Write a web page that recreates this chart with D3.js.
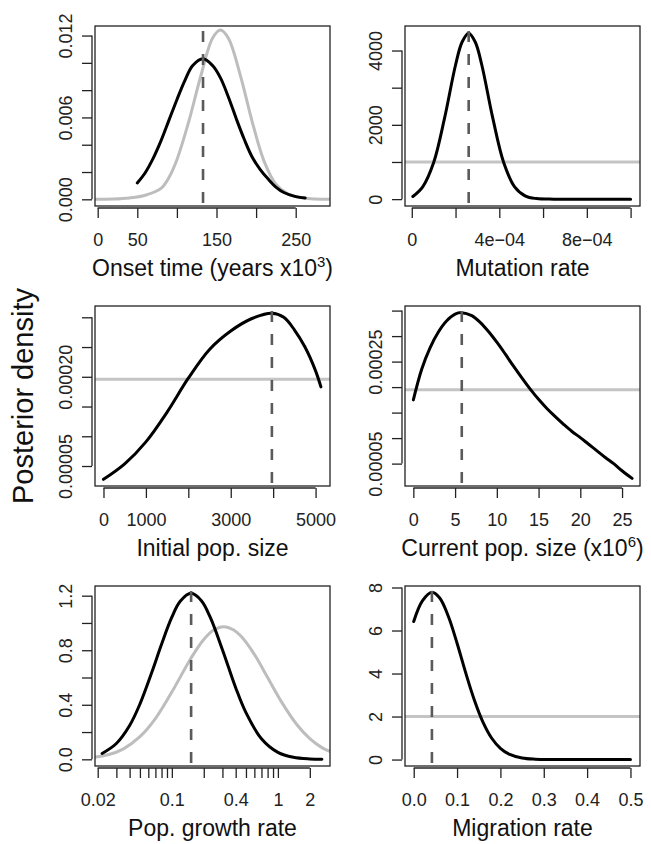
<!DOCTYPE html>
<html>
<head>
<meta charset="utf-8">
<script src="https://cdn.jsdelivr.net/npm/d3@7"></script>
<style>
  body { margin: 0; background: #fff; }
  svg { display: block; font-family: "Liberation Sans", Arial, Helvetica, sans-serif; }
</style>
</head>
<body>
<svg id="chart" width="651" height="844"></svg>
<script>
// Onset time (years x10^3)
const onsetPostX = [50, 60, 70, 80, 90, 100, 110, 120, 133, 145, 155, 165, 175, 185, 195, 205, 215, 225, 235, 250, 262];
const onsetPostY = [0.0012, 0.00195, 0.0030, 0.0043, 0.0058, 0.0073, 0.0087, 0.0098, 0.0103, 0.0098, 0.0089, 0.0075, 0.0059, 0.0044, 0.0031, 0.0022, 0.0015, 0.0009, 0.0005, 0.0002, 0.0001];
const onsetPriorX = [-10, 20, 40, 60, 80, 90, 100, 115, 130, 145, 155, 165, 180, 195, 210, 225, 240, 260, 300];
const onsetPriorY = [0, 0.00002, 0.0001, 0.0003, 0.0008, 0.0016, 0.0029, 0.0057, 0.0090, 0.0118, 0.0124, 0.0118, 0.0091, 0.0057, 0.0028, 0.0011, 0.0004, 0.0001, 0];
const onsetMode = 133;
const onsetXTicks = [0, 50, 100, 150, 200, 250];
const onsetXLabels = ['0', '50', '', '150', '', '250'];
const onsetYTicks = [0, 0.002, 0.004, 0.006, 0.008, 0.010, 0.012];
const onsetYLabels = ['0.000', '', '', '0.006', '', '', '0.012'];

// Mutation rate
const mutPostX = [0.000005, 0.00005, 0.0001, 0.00015, 0.0002, 0.00023, 0.00026, 0.00029, 0.00032, 0.00037, 0.00042, 0.00047, 0.00052, 0.00057, 0.00065, 0.0008, 0.001];
const mutPostY = [70, 330, 984, 2185, 3610, 4230, 4466, 4230, 3610, 2185, 984, 330, 80, 15, 0, 0, 0];
const mutPrior = 1000;
const mutMode = 0.00026;
const mutXTicks = [0, 0.0002, 0.0004, 0.0006, 0.0008, 0.001];
const mutXLabels = ['0', '', '4e\u221204', '', '8e\u221204', ''];
const mutYTicks = [0, 1000, 2000, 3000, 4000];
const mutYLabels = ['0', '', '2000', '', '4000'];

// Initial pop. size
const initPostX = [0, 500, 1000, 1500, 2000, 2500, 3000, 3500, 3970, 4250, 4500, 4750, 5000, 5126];
const initPostY = [0.0000276, 0.0000536, 0.0000906, 0.0001406, 0.0001976, 0.000246, 0.000277, 0.000298, 0.000307, 0.000300, 0.000279, 0.000250, 0.000210, 0.000183];
const initPrior = 0.000196;
const initMode = 3970;
const initXTicks = [0, 1000, 2000, 3000, 4000, 5000];
const initXLabels = ['0', '1000', '', '3000', '', '5000'];
const initYTicks = [0.00005, 0.0001, 0.00015, 0.0002, 0.00025, 0.0003];
const initYLabels = ['0.00005', '', '', '0.00020', '', ''];

// Current pop. size (x10^6)
const curPostX = [0, 1, 2, 3, 4, 5, 5.8, 7, 8, 9, 10, 11, 12, 13, 14, 15, 16, 17, 18, 19, 20, 21, 22, 23, 24, 25, 26.2];
const curPostY = [0.000175, 0.000235, 0.000277, 0.000308, 0.000330, 0.000343, 0.000346, 0.000340, 0.000327, 0.000309, 0.000288, 0.000265, 0.000241, 0.000218, 0.000196, 0.000176, 0.000158, 0.000142, 0.000127, 0.000113, 0.000101, 0.000088, 0.000075, 0.000062, 0.000050, 0.000036, 0.000021];
const curPrior = 0.000195;
const curMode = 5.8;
const curXTicks = [0, 5, 10, 15, 20, 25];
const curXLabels = ['0', '5', '10', '15', '20', '25'];
const curYTicks = [0.00005, 0.0001, 0.00015, 0.0002, 0.00025, 0.0003, 0.00035];
const curYLabels = ['0.00005', '', '', '', '0.00025', '', ''];

// Pop. growth rate (log axis)
const growPostX = [0.022, 0.03, 0.04, 0.05, 0.065, 0.08, 0.1, 0.12, 0.152, 0.19, 0.23, 0.3, 0.4, 0.5, 0.7, 1, 1.4, 2, 2.6];
const growPostY = [0.043, 0.116, 0.248, 0.405, 0.642, 0.844, 1.042, 1.159, 1.217, 1.163, 1.042, 0.804, 0.525, 0.342, 0.151, 0.051, 0.015, 0.003, 0.001];
const growPriorX = [0.017, 0.025, 0.035, 0.05, 0.07, 0.1, 0.15, 0.2, 0.25, 0.309, 0.38, 0.45, 0.6, 0.8, 1.1, 1.5, 2, 2.6, 3.3];
const growPriorY = [0.012, 0.033, 0.077, 0.166, 0.299, 0.493, 0.736, 0.879, 0.950, 0.973, 0.950, 0.902, 0.770, 0.600, 0.412, 0.257, 0.151, 0.086, 0.050];
const growMode = 0.152;
const growXTicks = [0.02, 0.03, 0.04, 0.05, 0.06, 0.07, 0.08, 0.09, 0.1, 0.2, 0.3, 0.4, 0.5, 0.6, 0.7, 0.8, 0.9, 1, 2];
const growXLabels = ['0.02', '', '', '', '', '', '', '', '0.1', '', '', '0.4', '', '', '', '', '', '1', '2'];
const growYTicks = [0, 0.2, 0.4, 0.6, 0.8, 1.0, 1.2];
const growYLabels = ['0.0', '', '0.4', '', '0.8', '', '1.2'];

// Migration rate
const migPostX = [0, 0.02, 0.042, 0.06, 0.08, 0.1, 0.12, 0.14, 0.16, 0.18, 0.2, 0.22, 0.25, 0.28, 0.32, 0.4, 0.5];
const migPostY = [6.42, 7.38, 7.78, 7.51, 6.65, 5.41, 4.03, 2.76, 1.73, 0.99, 0.52, 0.25, 0.072, 0.017, 0.002, 0, 0];
const migPrior = 2;
const migMode = 0.042;
const migXTicks = [0, 0.1, 0.2, 0.3, 0.4, 0.5];
const migXLabels = ['0.0', '0.1', '0.2', '0.3', '0.4', '0.5'];
const migYTicks = [0, 2, 4, 6, 8];
const migYLabels = ['0', '2', '4', '6', '8'];

// layout
const boxW = 235, boxH = 180;
const colX = [95, 405];
const rowY = [26, 306, 586];

const panels = [
    { col: 0, row: 0, xDomain: [-3.4, 293.3], yDomain: [-0.00049, 0.0127],
      xTicks: onsetXTicks, xLabels: onsetXLabels, yTicks: onsetYTicks, yLabels: onsetYLabels,
      post: d3.zip(onsetPostX, onsetPostY), prior: d3.zip(onsetPriorX, onsetPriorY), mode: onsetMode,
      title: ['Onset time (years x10', '3', ')'] },
    { col: 1, row: 0, xDomain: [-0.000031, 0.001043], yDomain: [-185, 4660],
      xTicks: mutXTicks, xLabels: mutXLabels, yTicks: mutYTicks, yLabels: mutYLabels,
      post: d3.zip(mutPostX, mutPostY), prior: mutPrior, mode: mutMode,
      title: ['Mutation rate'] },
    { col: 0, row: 1, xDomain: [-200, 5340], yDomain: [0.0000164, 0.000319],
      xTicks: initXTicks, xLabels: initXLabels, yTicks: initYTicks, yLabels: initYLabels,
      post: d3.zip(initPostX, initPostY), prior: initPrior, mode: initMode,
      title: ['Initial pop. size'] },
    { col: 1, row: 1, xDomain: [-1.0, 27.15], yDomain: [0.0000061, 0.000359],
      xTicks: curXTicks, xLabels: curXLabels, yTicks: curYTicks, yLabels: curYLabels,
      post: d3.zip(curPostX, curPostY), prior: curPrior, mode: curMode,
      title: ['Current pop. size (x10', '6', ')'] },
    { col: 0, row: 2, xDomain: [0.01886, 3.10], yDomain: [-0.049, 1.271], xLog: true,
      xTicks: growXTicks, xLabels: growXLabels, yTicks: growYTicks, yLabels: growYLabels,
      post: d3.zip(growPostX, growPostY), prior: d3.zip(growPriorX, growPriorY), mode: growMode,
      title: ['Pop. growth rate'] },
    { col: 1, row: 2, xDomain: [-0.0201, 0.522], yDomain: [-0.3, 8.07],
      xTicks: migXTicks, xLabels: migXLabels, yTicks: migYTicks, yLabels: migYLabels,
      post: d3.zip(migPostX, migPostY), prior: migPrior, mode: migMode,
      title: ['Migration rate'] }
];

const svg = d3.select('#chart');
svg.append('rect').attr('width', 651).attr('height', 844).attr('fill', '#fff');

panels.forEach((p, i) => {
    const g = svg.append('g').attr('transform', `translate(${colX[p.col]},${rowY[p.row]})`);
    const x = (p.xLog ? d3.scaleLog() : d3.scaleLinear()).domain(p.xDomain).range([0, boxW]);
    const y = d3.scaleLinear().domain(p.yDomain).range([boxH, 0]);

    g.append('clipPath').attr('id', 'clip' + i)
        .append('rect').attr('width', boxW).attr('height', boxH);
    const plot = g.append('g').attr('clip-path', `url(#clip${i})`);

    const line = d3.line()
        .x(d => x(d[0]))
        .y(d => y(d[1]))
        .curve(d3.curveCatmullRom.alpha(0.5));

    // prior: either a curve or a flat (uniform) line
    if (Array.isArray(p.prior)) {
        plot.append('path').datum(p.prior)
            .attr('d', line).attr('fill', 'none')
            .attr('stroke', '#bdbdbd').attr('stroke-width', 3);
    } else {
        plot.append('line')
            .attr('x1', 0).attr('x2', boxW)
            .attr('y1', y(p.prior)).attr('y2', y(p.prior))
            .attr('stroke', '#c4c4c4').attr('stroke-width', 3);
    }

    // posterior
    plot.append('path').datum(p.post)
        .attr('d', line).attr('fill', 'none')
        .attr('stroke', '#000').attr('stroke-width', 3)
        .attr('stroke-linejoin', 'round').attr('stroke-linecap', 'round');

    // mode
    plot.append('line')
        .attr('x1', x(p.mode)).attr('x2', x(p.mode))
        .attr('y1', boxH).attr('y2', 0)
        .attr('stroke', '#5a5a5a').attr('stroke-width', 2.6)
        .attr('stroke-dasharray', '11,12').attr('stroke-dashoffset', 20);

    // box
    g.append('rect').attr('width', boxW).attr('height', boxH)
        .attr('fill', 'none').attr('stroke', '#222').attr('stroke-width', 1.3);

    // y axis (R style: offset line, rotated labels)
    const ya = g.append('g')
        .attr('transform', 'translate(-3,0)')
        .call(d3.axisLeft(y).tickValues(p.yTicks).tickFormat((d, k) => p.yLabels[k]).tickSize(10).tickSizeOuter(0));
    ya.select('.domain').remove();
    ya.append('line')
        .attr('y1', y(p.yTicks[0])).attr('y2', y(p.yTicks[p.yTicks.length - 1]))
        .attr('stroke', 'currentColor');
    ya.attr('font-size', 18).attr('font-family', null).attr('color', '#222');
    ya.selectAll('line').attr('stroke-width', 1.3);
    ya.selectAll('text')
        .attr('transform', 'rotate(-90)')
        .attr('x', 0).attr('y', -20).attr('dy', 0)
        .attr('text-anchor', 'middle');

    // x axis
    const xa = g.append('g')
        .attr('transform', `translate(0,${boxH + 2})`)
        .call(d3.axisBottom(x).tickValues(p.xTicks).tickFormat((d, k) => p.xLabels[k]).tickSize(10).tickSizeOuter(0));
    xa.select('.domain').remove();
    xa.append('line')
        .attr('x1', x(p.xTicks[0])).attr('x2', x(p.xTicks[p.xTicks.length - 1]))
        .attr('stroke', 'currentColor');
    xa.attr('font-size', 18).attr('font-family', null).attr('color', '#222');
    xa.selectAll('line').attr('stroke-width', 1.3);
    xa.selectAll('text').attr('y', 38).attr('dy', 0);

    // x title
    const t = g.append('text')
        .attr('x', boxW / 2).attr('y', boxH + 70)
        .attr('text-anchor', 'middle')
        .attr('font-size', 23).attr('fill', '#111');
    t.append('tspan').text(p.title[0]);
    if (p.title.length > 1) {
        t.append('tspan').attr('font-size', 15).attr('dy', -9).text(p.title[1]);
        t.append('tspan').attr('dy', 9).text(p.title[2]);
    }
});

// shared y title
svg.append('text')
    .attr('transform', 'translate(33,396) rotate(-90)')
    .attr('text-anchor', 'middle')
    .attr('font-size', 29).attr('fill', '#111')
    .text('Posterior density');
</script>
</body>
</html>
